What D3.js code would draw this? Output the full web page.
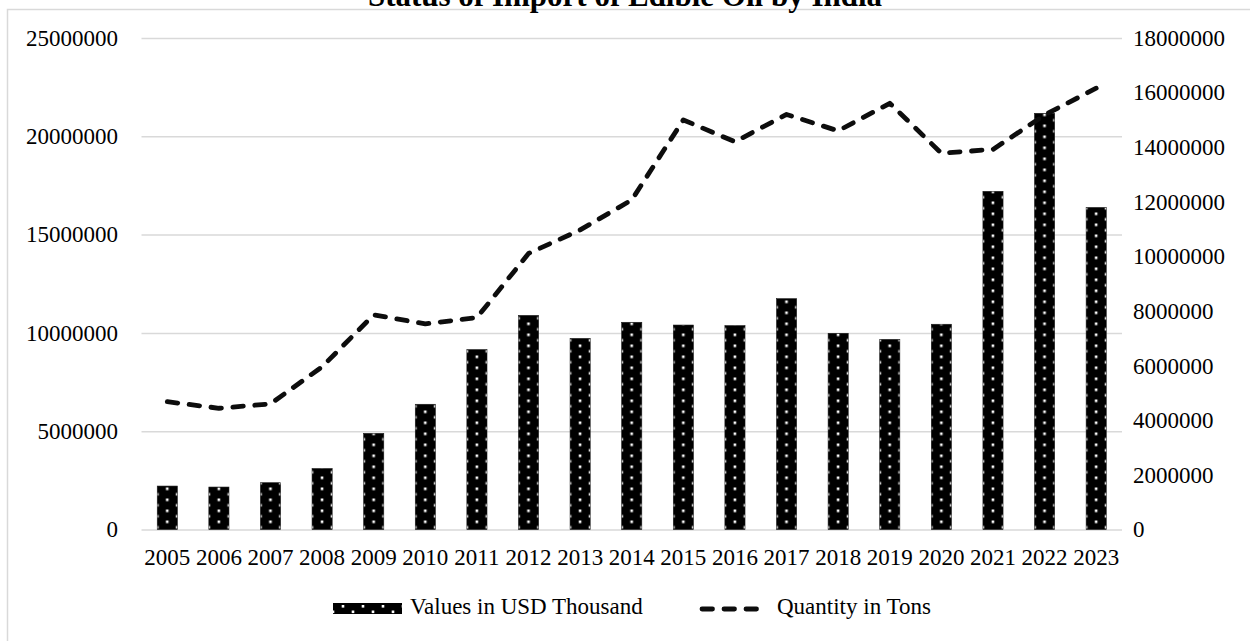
<!DOCTYPE html>
<html>
<head>
<meta charset="utf-8">
<script src="https://cdn.jsdelivr.net/npm/d3@7/dist/d3.min.js"></script>
<style>
  html, body { margin: 0; padding: 0; background: #fff; }
  svg { display: block; font-family: "Liberation Serif", "Times New Roman", serif; }
</style>
</head>
<body>
<svg id="chart" width="1250" height="641"></svg>
<script>
// Import of edible oil by India, 2005-2023
const years = ["2005","2006","2007","2008","2009","2010","2011","2012","2013","2014",
               "2015","2016","2017","2018","2019","2020","2021","2022","2023"];
// Import value, USD thousand (left axis)
const valuesUSD = [2210000, 2160000, 2380000, 3100000, 4890000, 6370000, 9150000, 10890000, 9720000, 10540000,
                   10400000, 10370000, 11740000, 9980000, 9670000, 10440000, 17200000, 21170000, 16380000];
// Import quantity, tons (right axis)
const quantityTons = [4680000, 4440000, 4600000, 5960000, 7860000, 7530000, 7760000, 10110000, 10970000, 12070000,
                      15000000, 14200000, 15200000, 14600000, 15610000, 13780000, 13920000, 15180000, 16160000];
const leftTicks = [0, 5000000, 10000000, 15000000, 20000000, 25000000];
const rightTicks = [0, 2000000, 4000000, 6000000, 8000000, 10000000, 12000000, 14000000, 16000000, 18000000];
const seriesNames = ["Values in USD Thousand", "Quantity in Tons"];
const title = "Status of Import of Edible Oil by India";

const svg = d3.select("#chart");
const plot = { left: 141.5, right: 1122, top: 38, bottom: 529.5 };
const gridColor = "#d9d9d9";
const fontSize = 23;

// chart frame
svg.append("rect")
  .attr("x", 7.5).attr("y", 9.5)
  .attr("width", 1300).attr("height", 700)
  .attr("fill", "none").attr("stroke", gridColor).attr("stroke-width", 1.5);

svg.append("text")
  .attr("x", 625).attr("y", 6)
  .attr("text-anchor", "middle")
  .attr("font-weight", "bold")
  .attr("font-size", 31)
  .text(title);

const x = d3.scaleBand().domain(years)
  .range([plot.left, plot.right])
  .paddingInner(0.61).paddingOuter(0.305);
const yL = d3.scaleLinear().domain([0, 25000000]).range([plot.bottom, plot.top]);
const yR = d3.scaleLinear().domain([0, 18000000]).range([plot.bottom, plot.top]);
const fmt = d3.format("d");

// gridlines (left axis)
const grid = svg.append("g").attr("transform", `translate(${plot.left},0)`)
  .call(d3.axisLeft(yL).tickValues(leftTicks).tickSize(-(plot.right - plot.left)).tickFormat(""));
grid.select(".domain").remove();
grid.selectAll(".tick line").attr("stroke", gridColor).attr("stroke-width", 1.5);

// left axis labels
const axL = svg.append("g").attr("transform", `translate(${plot.left},0)`)
  .call(d3.axisLeft(yL).tickValues(leftTicks).tickSize(0).tickPadding(23.5).tickFormat(fmt));
axL.select(".domain").remove();
axL.selectAll("text").attr("font-size", fontSize).attr("font-family", "Liberation Serif").attr("fill", "#000");

// right axis labels
const axR = svg.append("g").attr("transform", `translate(${plot.right},0)`)
  .call(d3.axisRight(yR).tickValues(rightTicks).tickSize(0).tickPadding(11).tickFormat(fmt));
axR.select(".domain").remove();
axR.selectAll("text").attr("font-size", fontSize).attr("font-family", "Liberation Serif").attr("fill", "#000");

// category axis
const axX = svg.append("g").attr("transform", `translate(0,${plot.bottom})`)
  .call(d3.axisBottom(x).tickSize(0).tickPadding(19));
axX.select(".domain").remove();
axX.selectAll("text").attr("font-size", fontSize).attr("font-family", "Liberation Serif").attr("fill", "#000");

// dotted fill: black tile with offset white dots, anchored at each bar's left edge
const defs = svg.append("defs");
function dotPattern(id, x0, y0) {
  const p = defs.append("pattern").attr("id", id)
    .attr("patternUnits", "userSpaceOnUse")
    .attr("x", x0).attr("y", y0)
    .attr("width", 20).attr("height", 11);
  p.append("rect").attr("width", 20).attr("height", 11).attr("fill", "#000");
  const d = 2.6;
  p.append("rect").attr("x", 10 - d / 2).attr("y", 2).attr("width", d).attr("height", d).attr("fill", "#fff");
  p.append("rect").attr("x", 0).attr("y", 7.5).attr("width", d / 2).attr("height", d).attr("fill", "#fff");
  p.append("rect").attr("x", 20 - d / 2).attr("y", 7.5).attr("width", d / 2).attr("height", d).attr("fill", "#fff");
}

years.forEach((yr, i) => dotPattern("dots" + i, x(yr), plot.bottom));

svg.append("g").selectAll("rect")
  .data(years.map((yr, i) => ({ yr, v: valuesUSD[i], i })))
  .join("rect")
  .attr("x", d => x(d.yr))
  .attr("y", d => yL(d.v))
  .attr("width", x.bandwidth())
  .attr("height", d => plot.bottom - yL(d.v))
  .attr("fill", d => `url(#dots${d.i})`)
  .attr("stroke", "#1a1a1a").attr("stroke-width", 0.6);

// quantity line
const line = d3.line()
  .x((d, i) => x(years[i]) + x.bandwidth() / 2)
  .y(d => yR(d));

svg.append("path")
  .attr("d", line(quantityTons))
  .attr("fill", "none")
  .attr("stroke", "#0d0d0d")
  .attr("stroke-width", 4.8)
  .attr("stroke-linecap", "round")
  .attr("stroke-linejoin", "round")
  .attr("stroke-dasharray", "10.5,11.5");

// legend
const leg = svg.append("g");
dotPattern("dotsLegend", 333, 603);
leg.append("rect")
  .attr("x", 333).attr("y", 603).attr("width", 69).attr("height", 11)
  .attr("fill", "url(#dotsLegend)");
leg.append("text")
  .attr("x", 410).attr("y", 614)
  .attr("font-size", fontSize)
  .text(seriesNames[0]);
leg.append("line")
  .attr("x1", 702).attr("x2", 762).attr("y1", 609).attr("y2", 609)
  .attr("stroke", "#0d0d0d").attr("stroke-width", 4.8)
  .attr("stroke-linecap", "round")
  .attr("stroke-dasharray", "10.5,11.5");
leg.append("text")
  .attr("x", 777).attr("y", 614)
  .attr("font-size", fontSize)
  .text(seriesNames[1]);
</script>
</body>
</html>
